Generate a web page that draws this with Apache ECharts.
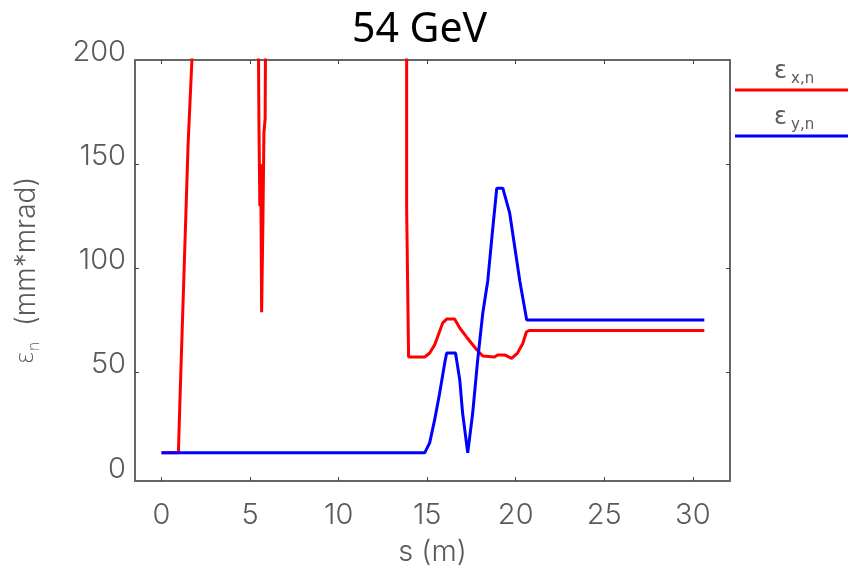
<!DOCTYPE html>
<html>
<head>
<meta charset="utf-8">
<script src="https://cdn.jsdelivr.net/npm/echarts@6/dist/echarts.min.js"></script>
<style>
html,body{margin:0;padding:0;background:#fff;}
#chart{width:850px;height:568px;}
</style>
</head>
<body>
<div id="chart"></div>
<script>
// ---- data ----
const xTicks = [0, 5, 10, 15, 20, 25, 30];
const yTicks = [0, 50, 100, 150, 200];
const yInnerTicks = [50, 100, 150];

// epsilon_x,n (red)
const sX = [0, 0.95, 1.05, 1.2, 1.35, 1.5, 1.72, 2.0, 5.4, 5.5, 5.55, 5.6, 5.65, 5.72, 5.78, 5.85, 5.92, 13.5, 13.84, 13.84, 13.95, 13.95, 14.86, 15.14, 15.42, 15.88, 16.1, 16.55, 16.84, 17.23, 17.8, 18.14, 18.8, 18.98, 19.38, 19.77, 20.1, 20.4, 20.6, 20.75, 30.65];
const epsX = [11.5, 11.5, 40, 80, 120, 160, 201, 300, 300, 168, 130, 150, 79, 120, 165, 172, 300, 300, 300, 129, 129, 57.5, 57.5, 59.4, 63.3, 73.9, 75.7, 75.7, 71.4, 67, 61, 58, 57.5, 58.5, 58.5, 56.8, 59.4, 64, 69.5, 70.2, 70.2];

// epsilon_y,n (blue)
const sY = [0, 14.86, 15.14, 15.42, 15.7, 15.99, 16.1, 16.6, 16.84, 17.0, 17.29, 17.57, 17.85, 18.14, 18.42, 18.7, 18.93, 19.27, 19.66, 20.23, 20.62, 30.65];
const epsY = [11.5, 11.5, 16.3, 27.3, 40, 54.6, 59.4, 59.4, 46.5, 30.6, 11.5, 30.6, 56, 78.6, 94, 119, 138.5, 138.5, 126.5, 94, 75.2, 75.2];

const zip = (a, b) => a.map((v, i) => [v, b[i]]);

const chart = echarts.init(document.getElementById('chart'), null, {renderer: 'canvas'});
const axisCol = '#666';
const labelCol = '#5a5a5a';
const tickFont = 'Inter';
const tickWeight = 300;

const option = {
  animation: false,
  backgroundColor: '#fff',
  title: {
    text: '54 GeV',
    left: 347,
    top: 5,
    textStyle: {fontFamily: 'Noto Sans', fontSize: 41, fontWeight: 'normal', color: '#000'}
  },
  grid: {left: 135, right: 120, top: 60, bottom: 87, containLabel: false, outerBoundsMode: 'none'},
  xAxis: [
    {
      type: 'value', min: -1.5, max: 32.1, position: 'bottom',
      axisLine: {show: true, onZero: false, lineStyle: {color: axisCol, width: 2}},
      axisTick: {show: true, inside: true, length: 4, customValues: xTicks, lineStyle: {color: '#444', width: 1}},
      axisLabel: {customValues: xTicks, fontFamily: tickFont, fontWeight: tickWeight, fontSize: 29, color: labelCol, margin: 20},
      splitLine: {show: false},
      name: 's (m)', nameLocation: 'middle', nameGap: 57,
      nameTextStyle: {fontFamily: tickFont, fontWeight: tickWeight, fontSize: 29, color: labelCol}
    },
    {
      type: 'value', min: -1.5, max: 32.1, position: 'top',
      axisLine: {show: true, onZero: false, lineStyle: {color: axisCol, width: 2}},
      axisTick: {show: true, inside: true, length: 4, customValues: xTicks, lineStyle: {color: '#444', width: 1}},
      axisLabel: {show: false},
      splitLine: {show: false}
    }
  ],
  yAxis: [
    {
      type: 'value', min: -2, max: 200, position: 'left',
      axisLine: {show: true, onZero: false, lineStyle: {color: axisCol, width: 2}},
      axisTick: {show: true, inside: true, length: 4, customValues: yInnerTicks, lineStyle: {color: '#444', width: 1}},
      axisLabel: {customValues: yTicks, fontFamily: tickFont, fontWeight: tickWeight, fontSize: 29, color: labelCol, margin: 9, verticalAlign: 'bottom', lineHeight: 16},
      splitLine: {show: false},
      name: '{e|ε}{s|n}  (mm*mrad)', nameLocation: 'middle', nameGap: 92, nameRotate: 90,
      nameTextStyle: {
        fontFamily: tickFont, fontWeight: tickWeight, fontSize: 28, color: labelCol,
        rich: {
          e: {fontFamily: 'DejaVu Sans', fontSize: 24, color: labelCol, lineHeight: 32},
          s: {fontFamily: 'DejaVu Sans', fontSize: 15, color: labelCol, verticalAlign: 'bottom', lineHeight: 32}
        }
      }
    },
    {
      type: 'value', min: -2, max: 200, position: 'right',
      axisLine: {show: true, onZero: false, lineStyle: {color: axisCol, width: 2}},
      axisTick: {show: true, inside: true, length: 4, customValues: yInnerTicks, lineStyle: {color: '#444', width: 1}},
      axisLabel: {show: false},
      splitLine: {show: false}
    }
  ],
  series: [
    {
      name: 'εx,n', type: 'line', data: zip(sX, epsX), xAxisIndex: 0, yAxisIndex: 0,
      showSymbol: false, clip: true, lineStyle: {color: '#ff0000', width: 3}, itemStyle: {color: '#ff0000'}
    },
    {
      name: 'εy,n', type: 'line', data: zip(sY, epsY), xAxisIndex: 0, yAxisIndex: 0,
      showSymbol: false, clip: true, lineStyle: {color: '#0000ff', width: 3}, itemStyle: {color: '#0000ff'}
    }
  ],
  graphic: [
    {type: 'text', x: 774, y: 60, style: {text: 'ε', font: '24px DejaVu Sans', fill: labelCol}},
    {type: 'text', x: 791, y: 72, style: {text: 'x,n', font: '15px DejaVu Sans', fill: labelCol}},
    {type: 'line', shape: {x1: 735, y1: 90, x2: 848, y2: 90}, style: {stroke: '#ff0000', lineWidth: 3}},
    {type: 'text', x: 774, y: 106, style: {text: 'ε', font: '24px DejaVu Sans', fill: labelCol}},
    {type: 'text', x: 791, y: 118, style: {text: 'y,n', font: '15px DejaVu Sans', fill: labelCol}},
    {type: 'line', shape: {x1: 735, y1: 136, x2: 848, y2: 136}, style: {stroke: '#0000ff', lineWidth: 3}}
  ]
};
chart.setOption(option);
</script>
</body>
</html>
